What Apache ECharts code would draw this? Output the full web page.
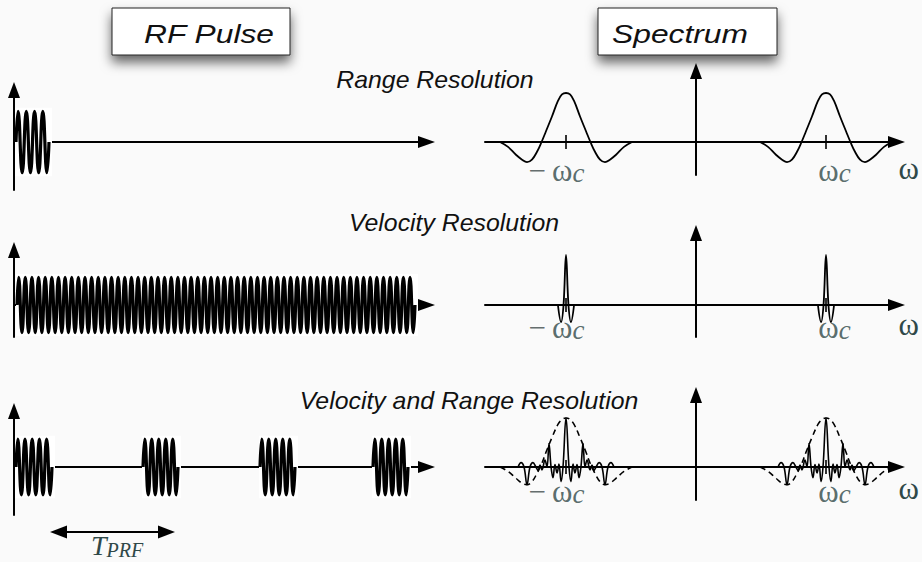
<!DOCTYPE html>
<html>
<head>
<meta charset="utf-8">
<script src="https://cdn.jsdelivr.net/npm/echarts@6/dist/echarts.min.js"></script>
<style>
html, body { margin: 0; padding: 0; background: #fafafa; }
#show { width: 922px; height: 562px; }
</style>
</head>
<body>
<div id="show"></div>
<script>
// ---- values ----
// left column: time, 1 unit ~ 100 px; a pulse is [start, end]
var rangePulses = [[0.02, 0.35]];
var velocityPulses = [[0.03, 4.01]];
var trainPulses = [[0.02, 0.38], [1.29, 1.64], [2.46, 2.81], [3.59, 3.94]];
var pulseCycles = [4, 60, 5];        // carrier cycles inside one pulse, per row
var pulseAmp = [1.02, 0.92, 0.93];   // carrier crest, per row
var carrierCycle = [1, -1];          // crest then trough
var tprfSpan = [0.36, 1.61];         // T_PRF arrow, tip to tip

// right column: frequency in units of wc
var carrierFreq = [-1, 1];
var carrierLabels = ['{m|−}{w|ω}{cr|c}', '{wl|ω}{c|c}'];
var lobeOffset = [-0.508, -0.446, -0.385, -0.338, -0.3, -0.262, -0.223, -0.188, -0.154, -0.108, -0.062, -0.031, 0,
                  0.031, 0.062, 0.108, 0.154, 0.188, 0.223, 0.262, 0.3, 0.338, 0.385, 0.446, 0.508];
var rangeLobe = [0, -0.1, -0.26, -0.36, -0.41, -0.36, -0.2, 0, 0.22, 0.52, 0.84, 0.97, 1,
                 0.97, 0.84, 0.52, 0.22, 0, -0.2, -0.36, -0.41, -0.36, -0.26, -0.1, 0];
var envelopeLobe = [0, -0.09, -0.23, -0.33, -0.36, -0.3, -0.13, 0.06, 0.3, 0.6, 0.87, 0.97, 1,
                    0.97, 0.87, 0.6, 0.3, 0.06, -0.13, -0.3, -0.36, -0.33, -0.23, -0.09, 0];
var spikeOffset = [-0.062, -0.038, -0.019, 0, 0.019, 0.038, 0.062];
var velocitySpike = [0, -0.35, 0, 1.02, 0, -0.35, 0];
var combOffset = [-0.369, -0.346, -0.323, -0.3, -0.277, -0.254, -0.231, -0.215, -0.2, -0.185, -0.162, -0.146, -0.131,
                  -0.115, -0.1, -0.085, -0.069, -0.054, -0.038, -0.023, 0,
                  0.023, 0.038, 0.054, 0.069, 0.085, 0.1, 0.115, 0.131, 0.146, 0.162, 0.185, 0.2, 0.215, 0.231,
                  0.254, 0.277, 0.3, 0.323, 0.346, 0.369];
var combValue = [0, 0.09, 0, -0.36, 0, 0.09, 0, -0.07, 0.04, -0.06, 0.14, 0, 0.48,
                 0, -0.22, 0.05, -0.12, 0.06, -0.3, 0, 1.0,
                 0, -0.3, 0.06, -0.12, 0.05, -0.22, 0, 0.48, 0, 0.14, -0.06, 0.04, -0.07,
                 0, 0.09, 0, -0.36, 0, 0.09, 0];

// ---- layout ----
var unitL = 30, unitR = 49, pxPerT = 100, pxPerW = 130;
var leftX0 = 14, leftTip = 435, rightX0 = 485, rightTip = 905, centerX = 696;
var headLen = 17, headW = 12;
var rows = [
    {axisY: 142, leftTip: 82, leftBottom: 190, rightTip: 63, rightBottom: 175, labelGap: 6, nameDrop: 11},
    {axisY: 305, leftTip: 242, leftBottom: 337, rightTip: 225, rightBottom: 337, labelGap: 0, nameDrop: 4},
    {axisY: 467, leftTip: 403, leftBottom: 515, rightTip: 387, rightBottom: 500, labelGap: 2, nameDrop: 6}
];
var serif = '"Liberation Serif", "DejaVu Serif", serif';
var sans = '"Liberation Sans", Arial, sans-serif';
var inkTeal = '#2f4848';

var chart = echarts.init(document.getElementById('show'), null, {renderer: 'svg'});

var leftW = leftTip - headLen / 2 - leftX0;
var rightW = rightTip - headLen / 2 - rightX0;

var rich = {
    m: {fontFamily: serif, fontSize: 31, color: '#3c4848', verticalAlign: 'top', padding: [0, 6, 0, 0]},
    w: {fontFamily: serif, fontSize: 31, color: inkTeal, verticalAlign: 'top'},
    wl: {fontFamily: serif, fontSize: 31, color: inkTeal, verticalAlign: 'top', padding: [0, 0, 0, 17]},
    c: {fontFamily: serif, fontStyle: 'italic', fontSize: 27, color: inkTeal, verticalAlign: 'top', padding: [4, 0, 0, 0]},
    cr: {fontFamily: serif, fontStyle: 'italic', fontSize: 27, color: inkTeal, verticalAlign: 'top', padding: [4, 19, 0, 0]}
};

function axisLineOf(size) {
    return {onZero: true, lineStyle: {color: '#000', width: 2}, symbol: ['none', 'triangle'], symbolSize: size};
}

function xAxisOf(gi, min, max, spectrum, r) {
    var ax = {
        type: 'value', gridIndex: gi, min: min, max: max,
        axisLine: axisLineOf([headW, headLen]),
        axisTick: {show: false}, splitLine: {show: false}, axisLabel: {show: false}
    };
    if (spectrum) {
        ax.name = 'ω';
        ax.nameLocation = 'end';
        ax.nameGap = 2;
        ax.nameMoveOverlap = false;
        ax.nameTextStyle = {fontFamily: serif, fontSize: 31, color: inkTeal, verticalAlign: 'top', padding: [r.nameDrop, 0, 0, 0]};
    }
    return ax;
}

function yAxisOf(gi, min, max) {
    return {
        type: 'value', gridIndex: gi, min: min, max: max,
        axisLine: axisLineOf([headW, 16]),
        axisTick: {show: false}, splitLine: {show: false}, axisLabel: {show: false}
    };
}

function carrier(p, cycles, amp) {
    var n = cycles * carrierCycle.length;
    var step = (p[1] - p[0]) / n;
    var pts = [[p[0], 0]];
    for (var k = 0; k < n; k++) {
        pts.push([p[0] + (k + 0.5) * step, amp * carrierCycle[k % carrierCycle.length]]);
    }
    pts.push([p[1], 0]);
    return pts;
}

function shifted(f, offsets, values) {
    return offsets.map(function (o, i) { return [f + o, values[i]]; });
}

var grids = [], xAxes = [], yAxes = [], series = [];
var pulseRows = [rangePulses, velocityPulses, trainPulses];

rows.forEach(function (r, i) {
    var lt = r.leftTip + 8, rt = r.rightTip + 8;
    grids.push({left: leftX0, top: lt, width: leftW, height: r.leftBottom - lt, outerBoundsMode: 'none'});
    grids.push({left: rightX0, top: rt, width: rightW, height: r.rightBottom - rt, outerBoundsMode: 'none'});
    xAxes.push(xAxisOf(2 * i, 0, leftW / pxPerT, false, r));
    xAxes.push(xAxisOf(2 * i + 1, -(centerX - rightX0) / pxPerW, (rightX0 + rightW - centerX) / pxPerW, true, r));
    yAxes.push(yAxisOf(2 * i, -(r.leftBottom - r.axisY) / unitL, (r.axisY - lt) / unitL));
    yAxes.push(yAxisOf(2 * i + 1, -(r.rightBottom - r.axisY) / unitR, (r.axisY - rt) / unitR));

    // white paper behind each pulse
    var pulses = pulseRows[i];
    var box = Math.min(pulseAmp[i] * 1.12, (r.leftBottom - r.axisY) / unitL - 0.02);
    series.push({
        type: 'line', xAxisIndex: 2 * i, yAxisIndex: 2 * i, z: 1, silent: true, symbol: 'none',
        lineStyle: {opacity: 0},
        data: pulses.map(function (p) { return [p[0], 0]; }),
        markArea: {
            silent: true, itemStyle: {color: '#ffffff'},
            data: pulses.map(function (p) { return [{coord: [p[0] - 0.01, -box]}, {coord: [p[1] + 0.03, box]}]; })
        }
    });
    pulses.forEach(function (p) {
        series.push({
            type: 'line', xAxisIndex: 2 * i, yAxisIndex: 2 * i, z: 3, silent: true,
            symbol: 'none', smooth: 0.5,
            lineStyle: {color: '#000', width: 3.2},
            data: carrier(p, pulseCycles[i], pulseAmp[i])
        });
    });

    // carrier ticks at -wc, wc with their labels
    series.push({
        type: 'scatter', xAxisIndex: 2 * i + 1, yAxisIndex: 2 * i + 1, z: 4, silent: true,
        symbol: 'rect', symbolSize: [2, 14], itemStyle: {color: '#000'},
        label: {
            show: true, position: 'bottom', distance: r.labelGap, rich: rich,
            formatter: function (p) { return carrierLabels[p.dataIndex]; }
        },
        data: carrierFreq.map(function (f) { return [f, 0]; })
    });
});

function spectrumLine(i, data, style) {
    return {
        type: 'line', xAxisIndex: 2 * i + 1, yAxisIndex: 2 * i + 1, z: 3, silent: true,
        symbol: 'none', smooth: 0.4, lineStyle: style, data: data
    };
}

carrierFreq.forEach(function (f) {
    series.push(spectrumLine(0, shifted(f, lobeOffset, rangeLobe), {color: '#000', width: 1.8}));
    series.push(spectrumLine(1, shifted(f, spikeOffset, velocitySpike), {color: '#000', width: 1.8}));
    series.push(spectrumLine(2, shifted(f, lobeOffset, envelopeLobe), {color: '#000', width: 1.6, type: [6, 4]}));
    series.push(spectrumLine(2, shifted(f, combOffset, combValue), {color: '#000', width: 1.6}));
});

// T_PRF arrow under the pulse train
grids.push({left: leftX0, top: 522, width: leftW, height: 20, outerBoundsMode: 'none'});
xAxes.push({type: 'value', gridIndex: 6, min: 0, max: leftW / pxPerT, show: false});
yAxes.push({type: 'value', gridIndex: 6, min: -1, max: 1, show: false});
var inset = headLen / 2 / pxPerT;
series.push({
    type: 'line', xAxisIndex: 6, yAxisIndex: 6, silent: true, symbol: 'none',
    lineStyle: {opacity: 0},
    data: [[tprfSpan[0], 0], [tprfSpan[1], 0]],
    markLine: {
        silent: true, animation: false,
        symbol: ['triangle', 'triangle'], symbolSize: [13, headLen],
        itemStyle: {color: '#000'},
        lineStyle: {color: '#000', width: 2, type: 'solid'},
        label: {
            show: true, position: 'insideMiddleBottom', distance: -1,
            formatter: '{t|T}{s|PRF}',
            padding: [0, 0, 0, 9],
            rich: {
                t: {fontFamily: serif, fontStyle: 'italic', fontSize: 28, color: inkTeal, verticalAlign: 'top'},
                s: {fontFamily: serif, fontStyle: 'italic', fontSize: 20, color: inkTeal, verticalAlign: 'top', padding: [9, 0, 0, 0]}
            }
        },
        data: [[{coord: [tprfSpan[0] + inset, 0]}, {coord: [tprfSpan[1] - inset, 0]}]]
    }
});

function titleBox(x, w, textX, text) {
    return {
        type: 'group', children: [
            {type: 'rect', shape: {x: x, y: 8, width: w, height: 47},
             style: {fill: '#fff', stroke: '#222', lineWidth: 1, shadowBlur: 12, shadowOffsetY: 7, shadowColor: 'rgba(0,0,0,0.6)'}},
            {type: 'text', x: textX, y: 34, scaleX: 1.27,
             style: {text: text, font: 'italic 25px ' + sans, fill: '#111', align: 'center', verticalAlign: 'middle',
                     textAlign: 'center', textVerticalAlign: 'middle'}}
        ]
    };
}

function rowTitle(x, y, text) {
    return {
        type: 'text', x: x, y: y, scaleX: 1.08,
        style: {text: text, font: 'italic 23px ' + sans, fill: '#111', align: 'center', verticalAlign: 'middle',
                textAlign: 'center', textVerticalAlign: 'middle'}
    };
}

chart.setOption({
    backgroundColor: '#fafafa',
    animation: false,
    grid: grids,
    xAxis: xAxes,
    yAxis: yAxes,
    series: series,
    graphic: [
        titleBox(112, 178, 209, 'RF Pulse'),
        titleBox(598, 179, 680, 'Spectrum'),
        rowTitle(435, 80, 'Range Resolution'),
        rowTitle(454, 223, 'Velocity Resolution'),
        rowTitle(469, 401, 'Velocity and Range Resolution')
    ]
});
</script>
</body>
</html>
